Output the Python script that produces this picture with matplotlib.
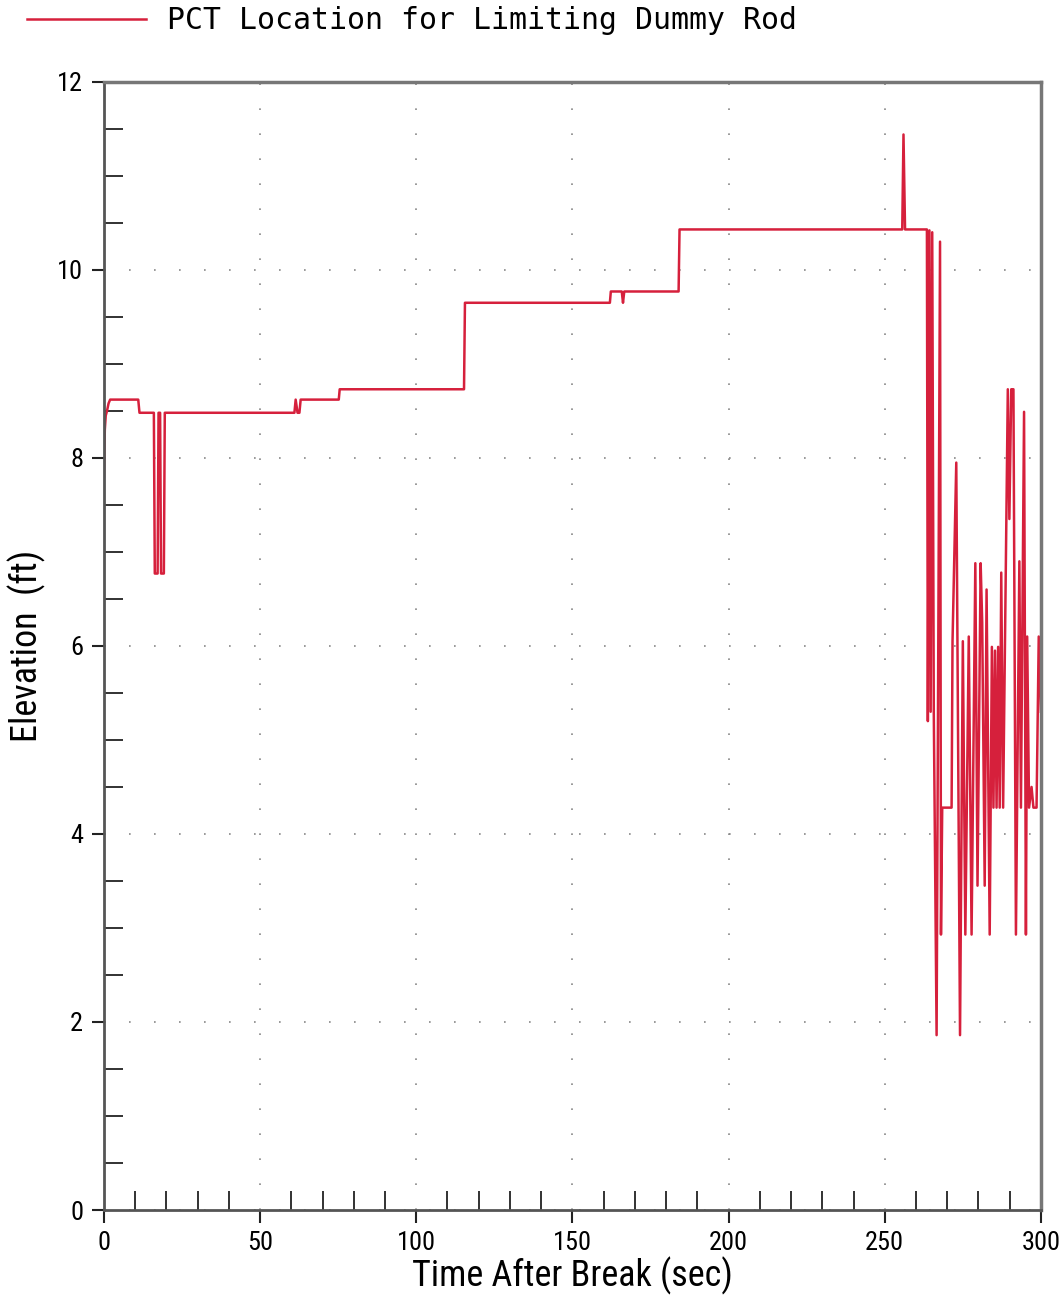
import matplotlib
matplotlib.use('Agg')
import matplotlib.pyplot as plt
from matplotlib.ticker import MultipleLocator

# tempo (s) e elevacao (ft) do ponto de PCT
tempo = [0.0, 0.3, 0.6, 1.0, 1.5, 2.0, 11.0, 11.4, 16.0, 16.3, 17.2, 17.5,
         18.0, 18.3, 19.2, 19.5, 61.0, 61.4, 62.0, 62.6, 63.0, 75.2, 75.5,
         115.3, 115.6, 162.0, 162.3, 165.8, 166.2, 166.6, 184.0, 184.3,
         255.6, 256.0, 256.5, 263.5,
         263.8, 264.3, 264.7, 265.2, 265.7, 266.6, 267.7, 268.0, 268.4, 271.4,
         271.7, 272.9, 274.1, 275.0, 275.8, 276.9, 277.8, 279.0, 279.7, 280.7,
         281.2, 282.0, 282.6, 283.6, 284.3, 284.8, 285.3, 285.8, 286.3, 286.8,
         287.3, 287.9, 289.4, 289.9, 290.5, 291.2, 292.0, 293.1, 293.6, 294.6,
         295.2, 295.6, 296.2, 297.0, 297.6, 298.6, 299.3, 300.0]
elevacao = [7.8, 8.3, 8.45, 8.5, 8.58, 8.62, 8.62, 8.48, 8.48, 6.77, 6.77, 8.48,
            8.48, 6.77, 6.77, 8.48, 8.48, 8.62, 8.48, 8.48, 8.62, 8.62, 8.73,
            8.73, 9.65, 9.65, 9.77, 9.77, 9.65, 9.77, 9.77, 10.43,
            10.43, 11.44, 10.43, 10.43,
            5.2, 10.42, 5.3, 10.40, 5.3, 1.86, 10.30, 2.93, 4.28, 4.28,
            6.05, 7.95, 1.86, 6.05, 2.93, 6.1, 2.93, 6.88, 3.45, 6.88,
            6.25, 3.45, 6.6, 2.93, 5.99, 4.28, 5.95, 4.28, 5.99, 4.28,
            6.78, 4.28, 8.73, 7.35, 8.73, 8.73, 2.93, 6.9, 4.28, 8.49,
            2.93, 6.1, 4.28, 4.5, 4.28, 4.28, 6.1, 5.3]

fonte = ['Roboto Condensed', 'Liberation Sans Narrow', 'DejaVu Sans']

fig = plt.figure(figsize=(10.6, 12.99), dpi=100)
ax = fig.add_axes([0.098, 0.0685, 0.884, 0.8685])

ax.plot(tempo, elevacao, color='#d6203c', lw=1.8,
        label='PCT Location for Limiting Dummy Rod')

ax.set_xlim(0, 300)
ax.set_ylim(0, 12)

# marcas principais para fora, secundarias para dentro
ax.xaxis.set_major_locator(MultipleLocator(50))
ax.xaxis.set_minor_locator(MultipleLocator(10))
ax.yaxis.set_major_locator(MultipleLocator(2))
ax.yaxis.set_minor_locator(MultipleLocator(0.5))
ax.tick_params(which='major', direction='out', length=9, width=1.5,
               color='#222222', labelsize=19, pad=6)
ax.tick_params(which='minor', direction='in', length=14, width=1.3,
               color='#222222')
for lbl in ax.get_xticklabels() + ax.get_yticklabels():
    lbl.set_family(fonte)

ax.grid(True, which='major', color='#888888', lw=1.2, linestyle=(0, (1, 14)))

for lado in ['top', 'right']:
    ax.spines[lado].set_color('#777777')
    ax.spines[lado].set_linewidth(2.5)
for lado in ['left', 'bottom']:
    ax.spines[lado].set_color('#555555')
    ax.spines[lado].set_linewidth(2)

ax.set_xlabel('Time After Break (sec)', fontsize=26, family=fonte)
ax.set_ylabel('Elevation  (ft)', fontsize=26, family=fonte)
ax.xaxis.set_label_coords(0.5, -0.041)
ax.yaxis.set_label_coords(-0.062, 0.5)

fig.legend(loc='upper left', bbox_to_anchor=(0.0, 1.016), frameon=False,
           prop={'family': 'DejaVu Sans Mono', 'size': 21.5},
           handlelength=4.0, handletextpad=0.7)

plt.savefig('out.png', dpi=100)
